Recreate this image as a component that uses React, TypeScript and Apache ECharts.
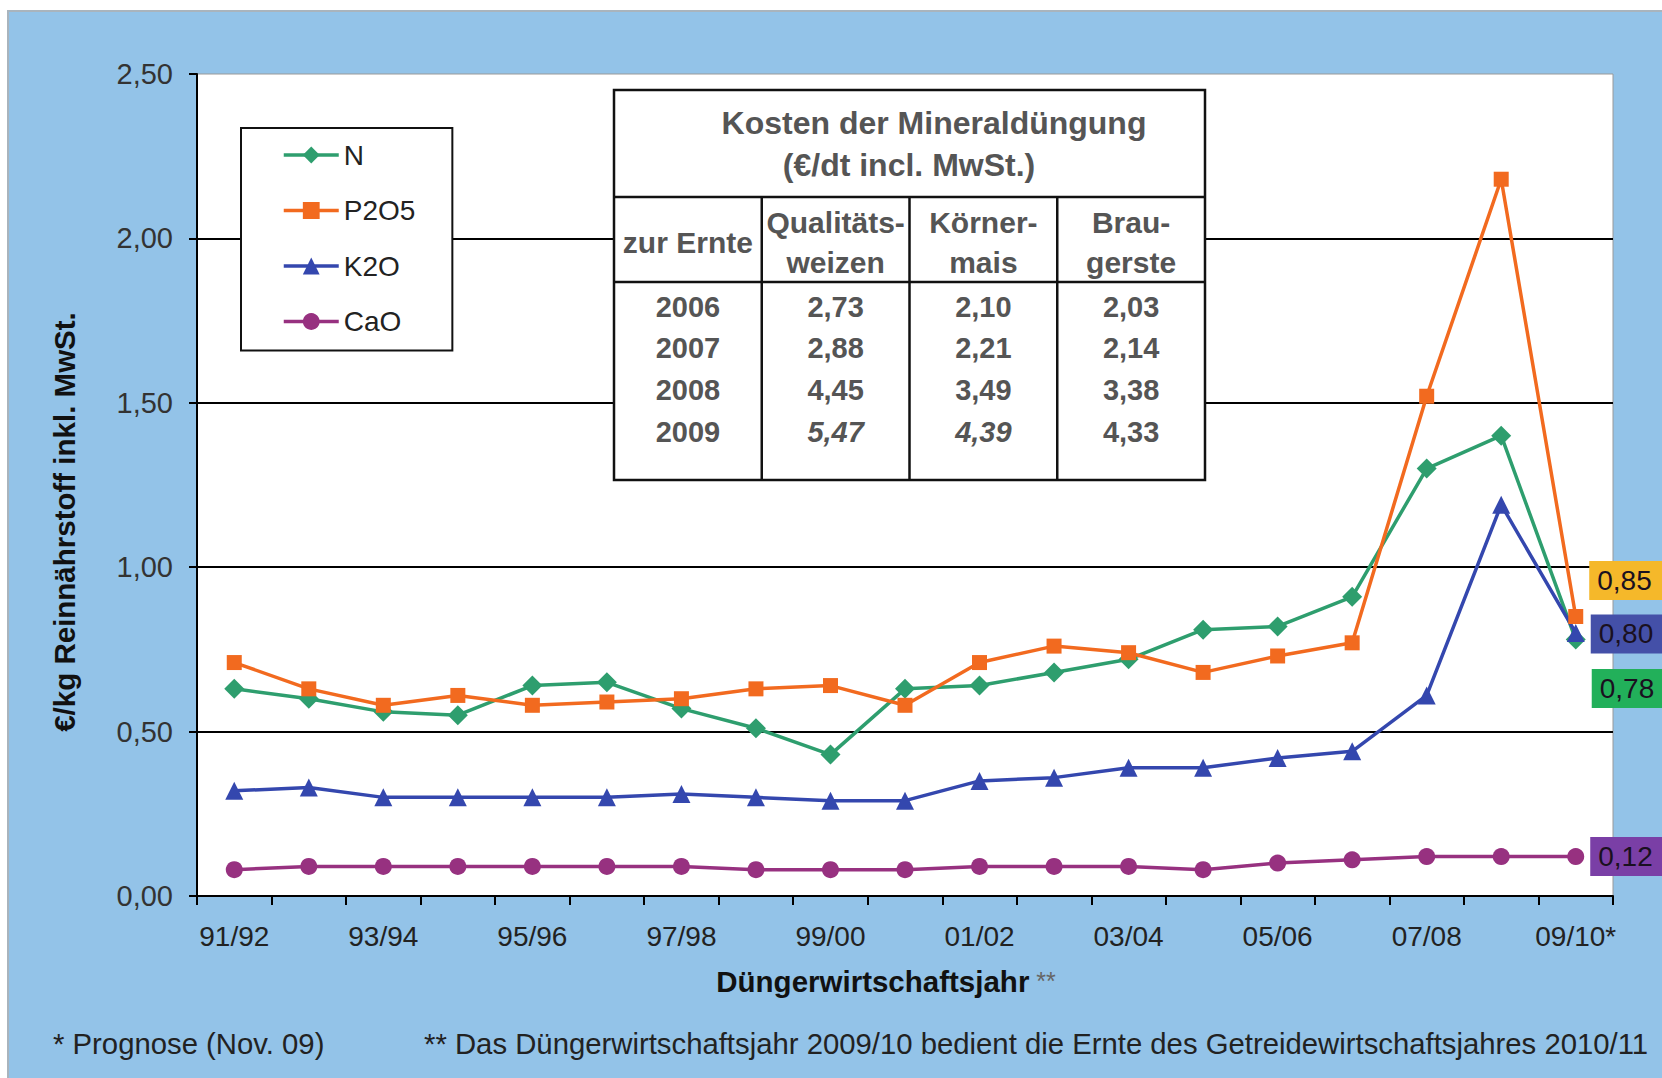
import React, { useEffect, useRef } from 'react';
import * as echarts from 'echarts';

const categories = ['91/92','92/93','93/94','94/95','95/96','96/97','97/98','98/99','99/00','00/01','01/02','02/03','03/04','04/05','05/06','06/07','07/08','08/09','09/10*'];
const valuesN = [0.63, 0.60, 0.56, 0.55, 0.64, 0.65, 0.57, 0.51, 0.43, 0.63, 0.64, 0.68, 0.72, 0.81, 0.82, 0.91, 1.30, 1.40, 0.78];
const valuesP2O5 = [0.71, 0.63, 0.58, 0.61, 0.58, 0.59, 0.60, 0.63, 0.64, 0.58, 0.71, 0.76, 0.74, 0.68, 0.73, 0.77, 1.52, 2.18, 0.85];
const valuesK2O = [0.32, 0.33, 0.30, 0.30, 0.30, 0.30, 0.31, 0.30, 0.29, 0.29, 0.35, 0.36, 0.39, 0.39, 0.42, 0.44, 0.61, 1.19, 0.80];
const valuesCaO = [0.08, 0.09, 0.09, 0.09, 0.09, 0.09, 0.09, 0.08, 0.08, 0.08, 0.09, 0.09, 0.09, 0.08, 0.10, 0.11, 0.12, 0.12, 0.12];

const tableTitle = ['Kosten der Mineraldüngung', '(€/dt incl. MwSt.)'];
const tableHeaders = [['zur Ernte'], ['Qualitäts-', 'weizen'], ['Körner-', 'mais'], ['Brau-', 'gerste']];
const tableYears = ['2006', '2007', '2008', '2009'];
const tableWeizen = ['2,73', '2,88', '4,45', '5,47'];
const tableMais = ['2,10', '2,21', '3,49', '4,39'];
const tableGerste = ['2,03', '2,14', '3,38', '4,33'];
const tableItalic = [[false, false, false, false], [false, false, false, false], [false, false, false, false], [false, true, true, false]];

const FONT = '"Liberation Sans", Arial, sans-serif';
const fmt = (v: number) => v.toFixed(2).replace('.', ',');

function buildSeries(name: string, values: number[], color: string, symbol: string, size: number, boxColor: string, dy: number) {
  const last = values.length - 1;
  return {
    name,
    type: 'line',
    symbol,
    symbolSize: size,
    lineStyle: { width: 3.5, color },
    itemStyle: { color },
    z: 3,
    data: values.map((v, i) =>
      i === last
        ? {
            value: v,
            label: {
              show: true,
              position: 'right',
              distance: 6,
              offset: [0, dy],
              formatter: (p: any) => fmt(p.value),
              backgroundColor: boxColor,
              padding: [6, 20, 5, 8],
              color: '#1a1020',
              fontSize: 28,
              fontFamily: FONT,
            },
          }
        : v
    ),
  };
}

function buildTable() {
  const x0 = 614, y0 = 90, w = 591, h = 390;
  const colW = w / 4;
  const yTitleSep = 197, yHeadSep = 282;
  const Z = 60;
  const els: any[] = [];
  els.push({ type: 'rect', z: Z, shape: { x: x0, y: y0, width: w, height: h }, style: { fill: '#fff', stroke: '#111', lineWidth: 2.5 } });
  els.push({ type: 'line', z: Z, shape: { x1: x0, y1: yTitleSep, x2: x0 + w, y2: yTitleSep }, style: { stroke: '#111', lineWidth: 2.5 } });
  els.push({ type: 'line', z: Z, shape: { x1: x0, y1: yHeadSep, x2: x0 + w, y2: yHeadSep }, style: { stroke: '#111', lineWidth: 2.5 } });
  for (let c = 1; c < 4; c++) {
    els.push({ type: 'line', z: Z, shape: { x1: x0 + c * colW, y1: yTitleSep, x2: x0 + c * colW, y2: y0 + h }, style: { stroke: '#111', lineWidth: 2.5 } });
  }
  const txtColor = '#555';
  const titleX = [934, 909];
  const titleY = [123, 165];
  tableTitle.forEach((t, i) => {
    els.push({ type: 'text', z: Z + 1, x: titleX[i], y: titleY[i], style: { text: t, fill: txtColor, font: `bold 32px ${FONT}`, align: 'center', verticalAlign: 'middle' } });
  });
  tableHeaders.forEach((lines, c) => {
    const cx = x0 + colW * (c + 0.5);
    const ys = lines.length === 1 ? [242] : [222, 262];
    lines.forEach((t, j) => {
      els.push({ type: 'text', z: Z + 1, x: cx, y: ys[j], style: { text: t, fill: txtColor, font: `bold 30px ${FONT}`, align: 'center', verticalAlign: 'middle' } });
    });
  });
  const cols = [tableYears, tableWeizen, tableMais, tableGerste];
  const rowY = [307, 348, 390, 432];
  tableYears.forEach((_, r) => {
    cols.forEach((col, c) => {
      const cx = x0 + colW * (c + 0.5);
      const it = tableItalic[r][c] ? 'italic ' : '';
      els.push({ type: 'text', z: Z + 1, x: cx, y: rowY[r], style: { text: col[r], fill: txtColor, font: `${it}bold 29px ${FONT}`, align: 'center', verticalAlign: 'middle' } });
    });
  });
  return els;
}

export default function App() {
  const ref = useRef<HTMLDivElement>(null);
  useEffect(() => {
    if (!ref.current) return;
    const chart = echarts.init(ref.current, undefined, { renderer: 'svg' });
    const option: any = {
      animation: false,
      backgroundColor: '#fff',
      textStyle: { fontFamily: FONT },
      grid: { left: 197, right: 49, top: 74, bottom: 182, show: true, backgroundColor: '#fff', borderColor: '#999', borderWidth: 1 },
      legend: {
        orient: 'vertical',
        left: 241,
        top: 128,
        padding: [13, 37, 15, 41],
        itemGap: 27.5,
        itemWidth: 55,
        itemHeight: 21,
        backgroundColor: '#fff',
        borderColor: '#111',
        borderWidth: 2,
        lineStyle: { width: 3.5 },
        textStyle: { fontSize: 28, color: '#222', fontFamily: FONT },
        data: ['N', 'P2O5', 'K2O', 'CaO'],
      },
      xAxis: {
        type: 'category',
        data: categories,
        boundaryGap: true,
        axisLine: { lineStyle: { color: '#000', width: 2 } },
        axisTick: { show: true, interval: 0, length: 9, lineStyle: { color: '#000', width: 2 } },
        axisLabel: { interval: 1, margin: 26, fontSize: 28, color: '#222', fontFamily: FONT },
        splitLine: { show: false },
      },
      yAxis: {
        type: 'value',
        min: 0,
        max: 2.5,
        interval: 0.5,
        axisLine: { show: true, lineStyle: { color: '#000', width: 2 } },
        axisTick: { show: true, length: 8, lineStyle: { color: '#000', width: 2 } },
        axisLabel: { margin: 24, fontSize: 29, color: '#333', fontFamily: FONT, formatter: (v: number) => fmt(v) },
        splitLine: { show: true, lineStyle: { color: ['#000', '#000', '#000', '#000', '#000', 'rgba(0,0,0,0)'], width: 2 } },
      },
      series: [
        buildSeries('N', valuesN, '#2E9E6E', 'diamond', 20, '#22B05A', 49),
        buildSeries('P2O5', valuesP2O5, '#F26A1F', 'rect', 15, '#F5B82A', -36),
        buildSeries('K2O', valuesK2O, '#3447AE', 'triangle', 18, '#4450A8', 1),
        buildSeries('CaO', valuesCaO, '#973180', 'circle', 17, '#7A3FA6', 0),
      ],
      graphic: [
        { type: 'rect', z: -100, silent: true, shape: { x: 8, y: 11, width: 1670, height: 1080 }, style: { fill: '#93C3E8', stroke: '#a9b4bd', lineWidth: 2 } },
        ...buildTable(),
        { type: 'text', x: 64, y: 522, rotation: Math.PI / 2, style: { text: '€/kg Reinnährstoff inkl. MwSt.', fill: '#111', font: `bold 29.5px ${FONT}`, align: 'center', verticalAlign: 'middle' } },
        {
          type: 'text', x: 886, y: 981,
          style: {
            text: '{b|Düngerwirtschaftsjahr}{s| **}',
            align: 'center', verticalAlign: 'middle',
            rich: {
              b: { font: `bold 29.5px ${FONT}`, fill: '#111' },
              s: { font: `25px ${FONT}`, fill: '#666' },
            },
          },
        },
        { type: 'text', x: 53, y: 1043, style: { text: '* Prognose (Nov. 09)', fill: '#222', font: `29.3px ${FONT}`, align: 'left', verticalAlign: 'middle' } },
        { type: 'text', x: 424, y: 1043, style: { text: '** Das Düngerwirtschaftsjahr 2009/10 bedient die Ernte des Getreidewirtschaftsjahres 2010/11', fill: '#222', font: `29.3px ${FONT}`, align: 'left', verticalAlign: 'middle' } },
      ],
    };
    chart.setOption(option);
    return () => chart.dispose();
  }, []);
  return <div ref={ref} style={{ position: 'fixed', left: 0, top: 0, width: 1662, height: 1078 }} />;
}
